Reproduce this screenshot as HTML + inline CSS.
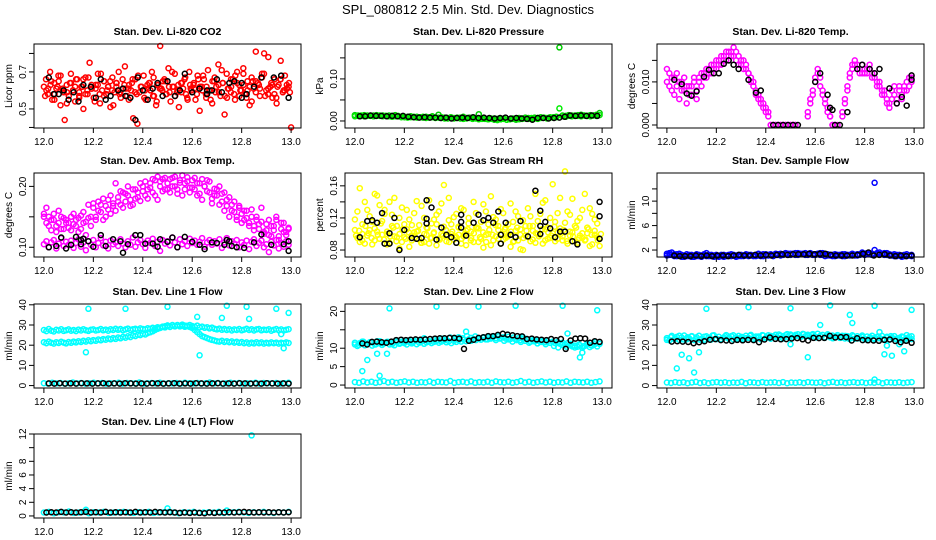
<!DOCTYPE html>
<html><head><meta charset="utf-8"><style>
body{margin:0;background:#fff}
svg{display:block;font-family:"Liberation Sans",sans-serif}
</style></head><body>
<svg id="c" width="936" height="540" viewBox="0 0 936 540">
<text x="468" y="14" text-anchor="middle" font-size="13">SPL_080812  2.5 Min. Std. Dev. Diagnostics</text>
</svg>
<script>
// ---- data ----
const xTicks=[12.0,12.2,12.4,12.6,12.8,13.0];
const xTickLabels=["12.0","12.2","12.4","12.6","12.8","13.0"];

const co2Red=[0.62,0.66,0.58,0.70,0.55,0.64,0.61,0.68,0.52,0.60,0.44,0.63,0.57,0.69,0.60,0.54,0.66,0.59,0.62,0.50,0.67,0.58,0.75,0.61,0.56,0.63,0.69,0.53,0.60,0.65,0.58,0.62,0.51,0.67,0.59,0.64,0.70,0.56,0.61,0.73,0.57,0.63,0.60,0.45,0.66,0.42,0.59,0.62,0.68,0.55,0.61,0.64,0.70,0.57,0.52,0.63,0.84,0.60,0.66,0.58,0.72,0.54,0.62,0.69,0.59,0.51,0.64,0.61,0.67,0.56,0.70,0.60,0.63,0.55,0.68,0.49,0.62,0.66,0.58,0.71,0.60,0.53,0.65,0.62,0.74,0.57,0.64,0.47,0.69,0.61,0.59,0.66,0.55,0.70,0.63,0.60,0.72,0.58,0.65,0.52,0.67,0.61,0.81,0.64,0.57,0.69,0.80,0.60,0.78,0.62,0.56,0.66,0.53,0.63,0.76,0.59,0.68,0.61,0.64,0.40];
const co2Red2=[0.60,0.63,0.58,0.65,0.61,0.59,0.64,0.62,0.57,0.66,0.60,0.63,0.61,0.58,0.65,0.62,0.60,0.64,0.59,0.63,0.61,0.66,0.58,0.62,0.60,0.64,0.57,0.63,0.61,0.65,0.59,0.62,0.60,0.64,0.58,0.63,0.61,0.66,0.60,0.62,0.55,0.67,0.59,0.64,0.56,0.62,0.68,0.57,0.63,0.60,0.54,0.65,0.61,0.69,0.58,0.63,0.56,0.66,0.60,0.62];
const co2Red3=[0.57,0.61,0.65,0.55,0.62,0.68,0.59,0.53,0.64,0.60,0.66,0.56,0.62,0.58,0.67,0.61,0.54,0.63,0.69,0.57,0.60,0.65,0.52,0.62,0.58,0.66,0.61,0.55,0.64,0.59,0.68,0.62,0.56,0.63,0.60,0.67,0.54,0.61,0.65,0.58,0.62,0.70,0.57,0.63,0.59,0.66,0.55,0.61,0.64,0.58,0.62,0.68,0.56,0.60,0.65,0.59,0.63,0.71,0.57,0.61,0.66,0.58,0.64,0.60,0.69,0.56,0.62,0.65,0.59,0.63,0.67,0.57,0.61,0.64,0.58,0.62,0.66,0.60,0.63,0.59];
const co2BlackX=[12.02,12.04,12.06,12.08,12.10,12.12,12.14,12.16,12.19,12.21,12.23,12.25,12.27,12.30,12.32,12.33,12.35,12.37,12.38,12.40,12.42,12.44,12.46,12.48,12.50,12.53,12.55,12.57,12.60,12.63,12.66,12.66,12.68,12.70,12.72,12.75,12.77,12.80,12.80,12.82,12.85,12.88,12.93,12.96,12.99];
const co2BlackY=[0.67,0.58,0.58,0.60,0.55,0.59,0.54,0.63,0.62,0.56,0.66,0.55,0.57,0.60,0.61,0.57,0.56,0.44,0.67,0.60,0.55,0.61,0.64,0.57,0.65,0.57,0.60,0.69,0.59,0.61,0.58,0.60,0.60,0.66,0.59,0.64,0.65,0.56,0.64,0.58,0.62,0.67,0.67,0.68,0.56];

const presG1=[0.014,0.013,0.012,0.014,0.013,0.012,0.013,0.014,0.012,0.013,0.012,0.013,0.012,0.014,0.011,0.010,0.009,0.010,0.011,0.009,0.010,0.009,0.008,0.010,0.009,0.011,0.008,0.015,0.007,0.008,0.006,0.009,0.007,0.008,0.006,0.010,0.007,0.008,0.006,0.007,0.016,0.006,0.005,0.004,0.006,0.003,0.005,0.004,0.006,0.003,0.004,0.005,0.003,0.007,0.006,0.008,0.007,0.006,0.008,0.007,0.009,0.008,0.007,0.009,0.008,0.010,0.175,0.013,0.012,0.014,0.013,0.012,0.014,0.015,0.013,0.012,0.014,0.013,0.015,0.019];
const presG2=[0.011,0.012,0.013,0.011,0.012,0.013,0.011,0.012,0.013,0.011,0.012,0.011,0.010,0.011,0.012,0.009,0.010,0.008,0.009,0.010,0.008,0.009,0.010,0.007,0.008,0.009,0.007,0.008,0.009,0.006,0.007,0.008,0.006,0.007,0.008,0.005,0.006,0.007,0.005,0.006,0.004,0.005,0.006,0.004,0.005,0.006,0.002,0.004,0.005,0.003,0.004,0.006,0.005,0.004,0.005,0.006,0.005,0.007,0.006,0.005,0.007,0.008,0.006,0.008,0.009,0.009,0.030,0.011,0.010,0.012,0.011,0.013,0.012,0.011,0.013,0.012,0.011,0.013,0.012,0.014];
const presBlack=[0.011,0.011,0.013,0.012,0.012,0.011,0.012,0.011,0.012,0.010,0.009,0.008,0.009,0.008,0.008,0.007,0.008,0.006,0.007,0.008,0.007,0.009,0.007,0.008,0.007,0.006,0.007,0.008,0.006,0.007,0.006,0.005,0.003,0.007,0.007,0.006,0.007,0.008,0.010,0.013,0.012,0.013,0.012,0.013,0.012];

const tempM1=[0.010,0.012,0.008,0.011,0.009,0.006,0.010,0.008,0.005,0.009,0.007,0.010,0.008,0.011,0.009,0.012,0.011,0.013,0.012,0.014,0.013,0.015,0.014,0.016,0.015,0.017,0.016,0.018,0.015,0.016,0.014,0.015,0.013,0.012,0.011,0.009,0.008,0.007,0.006,0.005,0.004,0.003,0.000,0.000,0.000,0.000,0.000,0.000,0.000,0.000,0.000,0.000,0.000,null,null,null,null,0.003,0.005,0.008,0.010,0.012,0.011,0.008,0.006,0.004,0.002,0.000,0.000,0.000,null,0.002,0.005,0.008,0.011,0.014,0.015,0.013,0.012,0.014,0.012,0.013,0.014,0.012,0.011,0.010,0.009,0.008,0.007,0.006,0.005,0.008,0.007,0.006,0.009,0.006,0.008,0.010,0.011,0.010];
const tempM2=[0.013,0.009,0.011,0.007,0.012,0.010,0.008,0.011,0.009,0.007,0.009,0.011,0.006,0.010,0.012,0.011,0.013,0.012,0.014,0.013,0.015,0.014,0.016,0.015,0.017,0.015,0.017,0.016,0.017,0.014,0.015,0.013,0.014,0.012,0.010,0.010,0.007,0.006,0.005,0.004,0.003,0.002,0.000,0.000,0.000,0.000,0.000,0.000,0.000,0.000,0.000,0.000,0.000,null,null,null,null,0.002,0.006,0.007,0.011,0.013,0.009,0.007,0.005,0.003,0.002,0.000,0.000,null,null,0.003,0.006,0.009,0.012,0.013,0.014,0.014,0.013,0.012,0.013,0.012,0.013,0.011,0.012,0.009,0.010,0.007,0.008,0.005,0.004,0.006,0.009,0.005,0.008,0.007,0.009,0.008,0.009,0.011];
const tempBlackX=[12.03,12.06,12.08,12.10,12.12,12.15,12.17,12.19,12.21,12.23,12.25,12.27,12.29,12.33,12.36,12.38,12.43,12.45,12.47,12.49,12.51,12.53,12.60,12.62,12.65,12.66,12.67,12.68,12.70,12.73,12.77,12.79,12.82,12.84,12.86,12.90,12.93,12.95,12.97,12.99,12.99];
const tempBlackY=[0.0105,0.0095,0.0073,0.0068,0.0078,0.0112,0.0128,0.012,0.012,0.0142,0.015,0.014,0.013,0.0105,0.0075,0.008,0,0,0,0,0,0,0.010,0.012,0.007,0.004,0.0035,0,0,0.003,0.013,0.014,0.013,0.012,0.013,0.0085,0.005,0.0065,0.0045,0.0105,0.0115];

const boxUp1=[0.155,0.140,0.150,0.128,0.145,0.135,0.160,0.130,0.148,0.140,0.132,0.150,0.138,0.145,0.125,0.152,0.140,0.120,0.148,0.135,0.165,0.150,0.160,0.170,0.145,0.168,0.178,0.155,0.172,0.160,0.182,0.170,0.190,0.175,0.185,0.168,0.195,0.180,0.190,0.176,0.200,0.185,0.195,0.205,0.190,0.210,0.178,0.200,0.212,0.195,0.205,0.190,0.214,0.200,0.195,0.210,0.185,0.205,0.215,0.198,0.210,0.195,0.205,0.188,0.212,0.200,0.192,0.208,0.180,0.196,0.185,0.200,0.175,0.190,0.168,0.182,0.160,0.175,0.150,0.165,0.155,0.145,0.160,0.140,0.150,0.135,0.145,0.130,0.142,0.125,0.138,0.120,0.135,0.128,0.145,0.118,0.130,0.140,0.125,0.132];
const boxUp2=[0.150,0.165,0.135,0.145,0.155,0.125,0.140,0.150,0.130,0.145,0.140,0.128,0.155,0.135,0.148,0.130,0.158,0.142,0.170,0.150,0.172,0.145,0.175,0.158,0.180,0.150,0.162,0.185,0.168,0.205,0.175,0.192,0.165,0.188,0.200,0.178,0.170,0.195,0.182,0.205,0.192,0.208,0.180,0.198,0.212,0.185,0.216,0.208,0.192,0.214,0.195,0.212,0.200,0.216,0.188,0.206,0.218,0.195,0.208,0.190,0.198,0.214,0.185,0.205,0.178,0.200,0.210,0.190,0.172,0.185,0.195,0.170,0.188,0.160,0.178,0.150,0.170,0.158,0.145,0.168,0.140,0.160,0.148,0.135,0.162,0.128,0.150,0.138,0.165,0.122,0.128,0.145,0.118,0.135,0.150,0.112,0.140,0.125,0.120,0.130];
const boxLow=[0.105,0.110,0.100,0.108,0.112,0.098,0.106,0.115,0.102,0.109,0.104,0.111,0.099,0.107,0.113,0.101,0.108,0.095,0.110,0.104,0.112,0.100,0.107,0.115,0.103,0.109,0.098,0.111,0.105,0.108,0.102,0.113,0.106,0.100,0.110,0.104,0.116,0.101,0.108,0.112,0.105,0.099,0.111,0.107,0.114,0.102,0.109,0.094,0.112,0.106,0.110,0.103,0.116,0.108,0.100,0.113,0.105,0.110,0.102,0.114,0.107,0.111,0.104,0.109,0.115,0.101,0.108,0.112,0.104,0.110,0.106,0.113,0.099,0.108,0.115,0.103,0.110,0.106,0.112,0.100,0.108,0.104,0.111,0.097,0.109,0.113,0.102,0.107,0.111,0.100,0.105,0.092,0.109,0.103,0.112,0.098,0.107,0.101,0.110,0.104];
const boxBlackX=[12.02,12.05,12.07,12.09,12.11,12.13,12.15,12.15,12.16,12.18,12.20,12.23,12.25,12.28,12.31,12.32,12.34,12.37,12.39,12.41,12.44,12.46,12.47,12.50,12.52,12.54,12.57,12.60,12.63,12.65,12.68,12.70,12.73,12.74,12.75,12.76,12.78,12.81,12.85,12.88,12.92,12.97,12.99,12.99];
const boxBlackY=[0.100,0.102,0.116,0.098,0.104,0.117,0.112,0.105,0.114,0.110,0.101,0.120,0.102,0.113,0.110,0.091,0.105,0.120,0.120,0.106,0.106,0.101,0.113,0.109,0.116,0.100,0.117,0.109,0.104,0.097,0.108,0.107,0.104,0.112,0.110,0.102,0.100,0.099,0.108,0.121,0.104,0.105,0.110,0.094];

const rhY1=[0.118,0.095,0.157,0.100,0.088,0.130,0.105,0.115,0.092,0.148,0.136,0.099,0.125,0.087,0.140,0.110,0.145,0.096,0.120,0.090,0.112,0.130,0.084,0.098,0.126,0.103,0.093,0.135,0.090,0.108,0.142,0.095,0.118,0.086,0.128,0.100,0.161,0.097,0.145,0.112,0.093,0.125,0.099,0.088,0.130,0.104,0.120,0.095,0.140,0.108,0.090,0.115,0.083,0.128,0.100,0.147,0.092,0.118,0.105,0.088,0.126,0.095,0.112,0.138,0.090,0.104,0.122,0.081,0.117,0.098,0.132,0.091,0.110,0.150,0.100,0.125,0.088,0.142,0.108,0.095,0.162,0.115,0.102,0.145,0.092,0.178,0.128,0.098,0.144,0.110,0.089,0.120,0.095,0.150,0.101,0.132,0.087,0.118,0.096,0.085];
const rhY2=[0.105,0.128,0.090,0.112,0.140,0.098,0.122,0.087,0.150,0.103,0.094,0.116,0.130,0.100,0.089,0.124,0.097,0.110,0.082,0.133,0.096,0.106,0.118,0.092,0.102,0.141,0.111,0.089,0.120,0.099,0.088,0.113,0.102,0.124,0.094,0.138,0.109,0.091,0.117,0.100,0.121,0.096,0.108,0.132,0.097,0.086,0.113,0.103,0.090,0.126,0.107,0.094,0.137,0.099,0.112,0.086,0.121,0.097,0.110,0.131,0.093,0.108,0.099,0.084,0.115,0.128,0.092,0.106,0.080,0.110,0.097,0.122,0.104,0.089,0.116,0.099,0.139,0.106,0.094,0.120,0.101,0.091,0.126,0.107,0.097,0.114,0.088,0.124,0.102,0.091,0.116,0.098,0.130,0.092,0.108,0.085,0.125,0.099,0.113,0.094];
const rhY3=[0.098,0.104,0.092,0.110,0.101,0.095,0.107,0.099,0.113,0.093,0.103,0.097,0.108,0.091,0.100,0.106,0.094,0.102,0.111,0.096,0.104,0.089,0.100,0.107,0.095,0.101,0.112,0.093,0.098,0.105,0.090,0.103,0.097,0.109,0.094,0.100,0.106,0.092,0.101,0.108,0.096,0.102,0.090,0.105,0.099,0.111,0.094,0.100,0.106,0.097,0.103,0.091,0.108,0.099,0.095,0.104,0.110,0.093,0.101,0.097,0.106,0.092,0.102,0.098,0.109,0.094,0.100,0.105,0.091,0.103,0.097,0.108,0.095,0.101,0.093,0.106,0.099,0.104,0.092,0.100];
const rhBlackX=[12.02,12.05,12.07,12.09,12.11,12.12,12.14,12.14,12.16,12.18,12.20,12.23,12.25,12.27,12.29,12.29,12.29,12.31,12.33,12.35,12.37,12.39,12.41,12.43,12.43,12.43,12.45,12.48,12.50,12.52,12.54,12.56,12.58,12.59,12.59,12.61,12.63,12.65,12.67,12.70,12.73,12.75,12.75,12.75,12.77,12.79,12.81,12.83,12.85,12.88,12.90,12.99,12.99,12.99];
const rhBlackY=[0.096,0.116,0.117,0.114,0.126,0.088,0.088,0.101,0.120,0.080,0.105,0.095,0.094,0.095,0.142,0.119,0.113,0.133,0.093,0.108,0.099,0.096,0.089,0.124,0.115,0.108,0.098,0.114,0.124,0.117,0.120,0.114,0.128,0.099,0.088,0.114,0.099,0.096,0.116,0.097,0.154,0.129,0.110,0.100,0.115,0.107,0.096,0.103,0.103,0.091,0.087,0.140,0.122,0.094];

const flowB1=[1.4,1.2,1.6,1.0,1.3,1.1,1.2,0.9,1.0,1.2,0.9,1.1,1.0,1.2,0.9,1.1,1.5,1.0,1.2,0.9,1.1,1.0,1.2,0.9,1.1,1.0,1.3,1.1,0.9,1.2,1.0,1.1,1.3,1.0,1.2,1.1,1.0,1.4,1.2,1.0,1.3,1.1,1.2,1.0,1.4,1.2,1.1,1.3,1.5,1.2,1.4,1.3,1.2,1.5,1.3,1.4,1.2,1.3,1.5,1.2,1.3,1.4,1.2,1.5,1.3,1.1,1.2,1.0,1.3,1.1,1.2,1.0,1.3,1.1,1.2,1.4,1.1,1.3,1.2,1.6,1.4,1.5,1.3,1.2,13.0,1.3,1.6,1.4,1.5,1.2,1.3,1.1,1.0,1.2,1.1,0.9,1.2,1.0,1.1,1.2];
const flowB2=[1.1,1.5,1.2,1.3,1.0,1.4,0.9,1.1,1.3,1.0,1.2,0.9,1.3,1.0,1.1,1.3,1.0,1.2,1.0,1.1,1.2,0.9,1.0,1.2,1.0,1.2,1.0,1.2,1.1,1.0,1.2,1.0,1.1,1.2,1.1,1.0,1.2,1.1,1.0,1.3,1.1,1.2,1.3,1.1,1.2,1.3,1.4,1.2,1.3,1.4,1.2,1.4,1.5,1.2,1.4,1.3,1.5,1.2,1.4,1.3,1.2,1.3,1.5,1.2,1.0,1.3,1.1,1.2,1.0,1.2,1.1,1.3,1.0,1.2,1.1,1.3,1.2,1.1,1.3,1.4,1.2,1.3,1.5,1.4,2.0,1.5,1.3,1.4,1.2,1.5,1.1,1.2,1.3,1.0,1.2,1.1,1.0,1.3,1.1,1.0];
const flowBlack=[1.1,1.0,1.0,1.0,1.1,1.0,1.1,1.0,1.1,1.1,1.0,1.1,1.2,1.1,1.1,1.2,1.1,1.2,1.1,1.2,1.3,1.2,1.3,1.3,1.3,1.4,1.3,1.4,1.4,1.2,1.1,1.1,1.1,1.1,1.2,1.4,1.6,1.1,1.2,1.3,1.1,1.0,1.1,1.0,1.1];

const l1Upper=[27.5,27,28,27.2,26.8,27.6,27.3,27.9,27.1,27.4,27.8,27.2,27.5,27,27.7,27.3,27.9,27.4,27.1,27.6,27.8,27.3,27.5,28,27.4,27.7,27.2,27.9,27.5,28.1,27.6,28,27.4,27.8,28.2,27.5,27.9,28.1,27.7,28.3,28,27.8,28.4,28.1,28.6,28.3,28.9,28.5,29.2,28.8,29.5,29,29.8,29.3,30,29.6,30.2,29.7,29.4,30,29.5,29.1,29.7,28.8,29.2,28.6,28.9,28.3,28.7,28.1,27.8,28.2,27.6,28,27.5,27.9,27.3,27.8,27.5,28,27.4,27.7,28.1,27.5,27.9,27.3,27.8,28,27.4,27.7,27.5,27.9,27.2,27.6,28,27.4,27.8,27.3,27.6,27.9];
const l1Lower=[21.5,21,21.8,21.2,20.8,21.5,21.1,21.7,21.3,20.9,21.6,21.2,21.8,21.4,22,21.6,22.2,21.8,22.4,22,22.5,22.2,22.8,22.4,23,22.7,23.3,22.9,23.5,23.1,23.8,23.4,24.1,23.7,24.4,24,24.8,24.5,25.2,25,25.6,25.3,26,26.4,26.9,27.5,28.1,28.6,29,29.4,29.8,29.2,30,29.5,29.9,29.3,29.7,29.1,29.6,29,28.5,27.5,26.5,25.5,24.5,24,23.5,23,22.6,22.3,22,21.8,22.2,21.6,22,21.5,21.9,21.3,21.7,21.2,21.6,21,21.4,20.8,21.3,20.9,21.5,21,21.4,20.8,21.2,20.9,21.4,21,21.3,20.8,21.2,21,21.4,21.1];
const l1Bottom=[1.2,1.0,1.4,1.1,1.3,1.0,1.2,1.5,1.1,1.3,1.0,1.2,1.4,1.1,1.3,1.0,1.2,1.1,1.4,1.0,1.3,1.2,1.1,1.5,1.0,1.2,1.3,1.1,1.4,1.0,1.2,1.1,1.3,1.0,1.4,1.2,1.1,1.3,1.0,1.2,1.5,1.1,1.3,1.0,1.2,1.4,1.1,1.3,1.0,1.2,1.1,1.4,1.0,1.3,1.2,1.1,1.3,1.0,1.2,1.4];
const l1OutX=[12.17,12.18,12.33,12.50,12.63,12.62,12.72,12.74,12.82,12.83,12.94,12.96,12.97,12.99];
const l1OutY=[16.5,38,38,39,15,34,33.5,39.5,39,33,38,25.5,18.5,36];
const l1Black=[1.1,1.0,1.2,1.0,1.1,1.0,1.2,1.1,1.0,1.1,1.2,1.0,1.1,1.0,1.2,1.1,1.0,1.1,1.0,1.2,1.1,1.0,1.1,1.2,1.0,1.1,1.0,1.2,1.1,1.0,1.1,1.2,1.0,1.1,1.0,1.2,1.1,1.0,1.1,1.0,1.2,1.1,1.0,1.1,1.0];

const l2Band1=[11,10.6,11.4,11.8,10.8,11.2,11.6,10.7,11.1,11.9,11.3,10.9,11.5,11.7,11,11.4,10.8,11.6,11.2,11.8,11.4,11,11.7,11.3,11.9,11.1,11.5,11.8,11.2,11.6,11.9,11.4,11.7,12,11.5,11.8,12.1,11.6,11.9,11.4,12,11.7,12.2,11.8,12.3,11.9,12.4,12,12.5,12.2,12.6,12.3,12.8,12.4,12.9,12.6,13.1,12.7,13.2,12.8,13,12.6,13.1,12.5,12.9,12.4,12.7,12.2,12.5,12,12.3,11.8,12.2,11.9,12.1,11.7,12,11.6,11.9,11.5,11.8,11.4,11.7,11.2,11.5,11,11.4,10.8,10.5,10.2,10.4,10.8,10.1,10.6,11,10.3,10.7,11.1,10.5,11.2];
const l2Band2=[11.5,10.9,11.8,11.2,11.6,11,11.9,11.3,11.7,11.1,12,11.4,11.8,12.1,11.6,12.2,11.9,12.3,11.8,12.4,12.1,12.6,12.3,12.9,12.5,13,12.7,13.3,12.8,13.2,12.6,13,12.4,12.8,12.2,12.6,12,12.4,11.8,12.2,11.7,12,11.5,11.9,11.3,11.7,11.1,11.5,10.6,10.2,10.9,10.4,11.2,10.7,11,10.5,11.3,10.8,11.6,11.2];
const l2Bottom=[0.8,0.6,1.0,0.7,0.9,0.6,0.8,1.1,0.7,0.9,0.6,0.8,1.0,0.7,0.9,0.6,0.8,0.7,1.0,0.6,0.9,0.8,0.7,1.1,0.6,0.8,0.9,0.7,1.0,0.6,0.8,0.7,0.9,0.6,1.0,0.8,0.7,0.9,0.6,0.8,1.1,0.7,0.9,0.6,0.8,1.0,0.7,0.9,0.6,0.8,0.7,1.0,0.6,0.9,0.8,0.7,0.9,0.6,0.8,1.0];
const l2OutX=[12.03,12.05,12.09,12.10,12.13,12.14,12.28,12.33,12.45,12.50,12.65,12.68,12.84,12.86,12.91,12.92,12.98];
const l2OutY=[3.8,6.8,8.5,2.5,8.5,20.8,12.7,21.3,14.5,21.3,21.5,13,21.5,14,7.5,8.8,20.3];
const l2Black=[11.3,11,11.7,11.8,11.6,11.5,11.8,12.2,12.3,12.2,12.3,12.4,12.3,12.4,12.5,12.6,12.7,12.7,12.8,12.8,12.6,9.8,12,12.3,12.8,13,13.3,13.3,13.6,13.9,13.7,13.5,13.3,13.2,12.5,12.6,12.4,12.3,12.2,12.5,12.2,12.5,9.8,12.1,12.6,12.7,12.6,11.5,11.9,11.7];

const l3Band1=[23.5,22.4,24.6,23,24.1,22.6,23.8,24.8,22.9,23.4,24.3,22.5,23.9,24.7,23.1,22.7,24.4,23.6,22.8,24.9,23.3,24.2,22.9,23.7,25,23.2,24.5,22.8,23.9,24.6,23.4,22.9,24.7,23.6,25.1,23,24.3,23.8,22.9,24.8,23.5,24.9,23.2,24.4,25.2,23.7,24.8,23.3,25,24.1,25.3,23.9,24.6,25.4,24,25.6,24.4,25.2,24.1,25.5,24.3,25.7,24.6,25.1,24,25.4,23.9,24.8,24.2,25,23.6,24.7,23.3,24.5,23.8,24.9,23.2,24.4,23.6,24.8,23.1,24.3,23.5,24.7,22.9,24.1,23.4,24.6,23,24.2,22.7,23.8,24.5,22.9,23.6,24.3,22.6,23.5,24.1,23];
const l3Band2=[22.6,24,23.2,24.7,22.8,23.9,24.5,23.1,22.7,24.2,23.6,24.8,23,22.9,24.4,23.7,24.9,23.3,24.1,23.5,24.7,23.8,24.3,25,23.9,24.6,24.2,25.3,24.4,25.5,24.8,25.1,24.3,25.4,24.6,24.9,23.8,24.5,23.6,24.8,23.4,24.2,23.7,24.6,23.1,24.4,23.3,24.1,22.8,23.9,23.4,24.3,22.9,23.8,24.5,23.2,22.8,24,23.5,24.4];
const l3Bottom=[1.5,1.3,1.7,1.4,1.6,1.2,1.5,1.8,1.3,1.6,1.2,1.5,1.7,1.4,1.6,1.3,1.5,1.4,1.8,1.2,1.6,1.5,1.3,1.7,1.4,1.5,1.6,1.3,1.7,1.2,1.5,1.4,1.6,1.3,1.7,1.5,1.4,1.6,1.2,1.5,1.8,1.4,1.6,1.3,1.5,1.7,1.4,1.6,1.3,1.5,1.4,1.7,1.2,1.6,1.5,1.4,1.6,1.3,1.5,1.7];
const l3OutX=[12.04,12.06,12.09,12.11,12.13,12.16,12.33,12.50,12.50,12.57,12.62,12.66,12.74,12.75,12.84,12.84,12.86,12.88,12.89,12.91,12.94,12.96,12.97,12.99];
const l3OutY=[8.5,15.3,13.5,6.5,16.5,38,38.8,38.3,20.5,14,30,39.7,35,31,39.5,3,26.5,15.5,19.8,14.8,20.5,17,25,37.5];
const l3Black=[21.8,22,21.8,21.6,21,21.5,22,22.7,23,22.5,22.3,22.1,22.6,22.4,22.6,22.5,21.5,22.8,23.8,23.1,22.9,23,23.3,23.5,22.9,22.3,23.6,23.5,23.6,24.6,23.8,24,24,22.3,23.4,22.5,22.4,22.3,22.2,22.6,22.8,22.1,21.5,22.2,21.2];

const l4Band=[0.5,0.6,0.4,0.55,0.5,0.65,0.45,0.5,0.6,0.4,0.55,0.5,0.6,0.45,0.5,0.55,0.6,0.5,0.45,0.55,0.5,0.6,0.45,0.5,0.55,0.6,0.5,0.4,0.55,0.5,0.6,0.45,0.5,0.55,0.5,0.6,0.45,0.5,0.55,0.6,0.5,0.45,0.55,0.5,0.6,0.5,0.45,0.55,0.5,0.6];
const l4OutX=[12.17,12.50,12.74,12.84];
const l4OutY=[0.9,1.1,0.8,11.8];
const l4Black=[0.5,0.55,0.5,0.6,0.5,0.55,0.5,0.55,0.6,0.5,0.55,0.5,0.6,0.5,0.55,0.5,0.55,0.5,0.6,0.5,0.55,0.5,0.6,0.55,0.5,0.55,0.5,0.45,0.5,0.45,0.5,0.45,0.4,0.5,0.45,0.5,0.5,0.55,0.5,0.55,0.6,0.55,0.5,0.55,0.5,0.55,0.5,0.55,0.5,0.55];

// ---- layout & rendering ----
const NS="http://www.w3.org/2000/svg";
const svg=document.getElementById('c');
const cols=[[34,301],[345,612],[657,924]];
const rows=[[44,128],[173,257],[304,388],[434,518]];
const MAG="#ff00ff",CY="#00ffff",BLK="#000000";
function ev(arr,a,b){return arr.map((v,i)=>[a+(b-a)*i/(arr.length-1),v]);}
function xy(xs,ys){return xs.map((x,i)=>[x,ys[i]]);}
const panels=[
 {name:"co2",title:"Stan. Dev. Li-820 CO2",ylab:"Licor ppm",c:0,r:0,ylim:[0.397,0.851],ticks:[0.4,0.5,0.6,0.7,0.8],labs:["","0.5","","0.7",""],
  series:[[ev(co2Red,12.0,13.0),"#ff0000"],[ev(co2Red2,12.01,12.99),"#ff0000"],[ev(co2Red3,12.005,12.995),"#ff0000"],[xy(co2BlackX,co2BlackY),BLK]]},
 {name:"pressure",title:"Stan. Dev. Li-820 Pressure",ylab:"kPa",c:1,r:0,ylim:[-0.0167,0.183],ticks:[0,0.05,0.1,0.15],labs:["0.00","","0.10",""],
  series:[[ev(presG1,12.0,12.99),"#00cc00"],[ev(presG2,12.0,12.99),"#00ee00"],[ev(presBlack,12.02,12.98),BLK]]},
 {name:"li820-temp",title:"Stan. Dev. Li-820 Temp.",ylab:"degrees C",c:2,r:0,ylim:[-0.0007,0.0188],ticks:[0,0.005,0.01,0.015],labs:["0.000","","0.010",""],
  series:[[ev(tempM1,12.0,12.99),MAG],[ev(tempM2,12.0,12.99),MAG],[xy(tempBlackX,tempBlackY),BLK]]},
 {name:"amb-box-temp",title:"Stan. Dev. Amb. Box Temp.",ylab:"degrees C",c:0,r:1,ylim:[0.084,0.222],ticks:[0.1,0.15,0.2],labs:["0.10","","0.20"],
  series:[[ev(boxUp1,12.0,12.99),MAG],[ev(boxUp2,12.0,12.99),MAG],[ev(boxLow,12.0,12.99),MAG],[xy(boxBlackX,boxBlackY),BLK]]},
 {name:"gas-stream-rh",title:"Stan. Dev. Gas Stream RH",ylab:"percent",c:1,r:1,ylim:[0.0713,0.176],ticks:[0.08,0.1,0.12,0.14,0.16],labs:["0.08","","0.12","","0.16"],
  series:[[ev(rhY1,12.0,12.99),"#ffff00"],[ev(rhY2,12.0,12.99),"#ffff00"],[ev(rhY3,12.005,12.995),"#ffff00"],[xy(rhBlackX,rhBlackY),BLK]]},
 {name:"sample-flow",title:"Stan. Dev. Sample Flow",ylab:"ml/min",c:2,r:1,ylim:[0.86,14.6],ticks:[2,4,6,8,10,12],labs:["2","","6","","10",""],
  series:[[ev(flowB1,12.0,12.99),"#0000ff"],[ev(flowB2,12.0,12.99),"#0000ff"],[ev(flowBlack,12.03,12.99),BLK]]},
 {name:"line1-flow",title:"Stan. Dev. Line 1 Flow",ylab:"ml/min",c:0,r:2,ylim:[-1.2,40.4],ticks:[0,10,20,30,40],labs:["0","10","20","30","40"],
  series:[[ev(l1Upper,12.0,12.99),CY],[ev(l1Lower,12.0,12.99),CY],[ev(l1Bottom,12.0,12.99),CY],[xy(l1OutX,l1OutY),CY],[ev(l1Black,12.02,12.99),BLK]]},
 {name:"line2-flow",title:"Stan. Dev. Line 2 Flow",ylab:"ml/min",c:1,r:2,ylim:[-0.8,22],ticks:[0,5,10,15,20],labs:["0","5","10","","20"],
  series:[[ev(l2Band1,12.0,12.99),CY],[ev(l2Band2,12.0,12.99),CY],[ev(l2Bottom,12.0,12.99),CY],[xy(l2OutX,l2OutY),CY],[ev(l2Black,12.03,12.99),BLK]]},
 {name:"line3-flow",title:"Stan. Dev. Line 3 Flow",ylab:"ml/min",c:2,r:2,ylim:[-1.2,40.4],ticks:[0,10,20,30,40],labs:["0","10","20","30","40"],
  series:[[ev(l3Band1,12.0,12.99),CY],[ev(l3Band2,12.0,12.99),CY],[ev(l3Bottom,12.0,12.99),CY],[xy(l3OutX,l3OutY),CY],[ev(l3Black,12.02,12.99),BLK]]},
 {name:"line4-flow",title:"Stan. Dev. Line 4 (LT) Flow",ylab:"ml/min",c:0,r:3,ylim:[-0.3,12],ticks:[0,2,4,6,8,10,12],labs:["0","2","4","6","8","","12"],
  series:[[ev(l4Band,12.0,12.99),CY],[xy(l4OutX,l4OutY),CY],[ev(l4Black,12.01,12.99),BLK]]}
];
function mk(tag,attrs,parent){const e=document.createElementNS(NS,tag);for(const k in attrs)e.setAttribute(k,attrs[k]);(parent||svg).appendChild(e);return e;}
panels.forEach(p=>{
  const [x0,x1]=cols[p.c],[y0,y1]=rows[p.r];
  const g=mk('g',{});
  
  
  const sx=v=>x0+(v-11.96)/(13.04-11.96)*(x1-x0);
  const sy=v=>y1-(v-p.ylim[0])/(p.ylim[1]-p.ylim[0])*(y1-y0);
  const t=mk('text',{x:(x0+x1)/2,y:y0-9,'text-anchor':'middle','font-size':10.5,'font-weight':'bold'},g);
  t.textContent=p.title;
  
  
  const yl=mk('text',{x:0,y:0,'text-anchor':'middle','font-size':10,transform:`translate(${x0-22},${(y0+y1)/2}) rotate(-90)`},g);
  yl.textContent=p.ylab;
  
  
  p.series.forEach(([pts,col])=>{
    pts.forEach(([x,y])=>{
      if(y===null)return;
      const c=mk('circle',{cx:sx(x).toFixed(1),cy:sy(y).toFixed(1),r:2.5,fill:'none',stroke:col,'stroke-width':1.5},g);
      
      
    });
  });
  const box=mk('rect',{x:x0,y:y0,width:x1-x0,height:y1-y0,fill:'none',stroke:'#000','stroke-width':1},g);
  
  
  xTicks.forEach((v,i)=>{
    const X=sx(v);
    mk('line',{x1:X,x2:X,y1:y1,y2:y1+5,stroke:'#000'},g);
    const tl=mk('text',{x:X,y:y1+17,'text-anchor':'middle','font-size':10},g);
    tl.textContent=xTickLabels[i];
    
    
  });
  p.ticks.forEach((v,i)=>{
    const Y=sy(v);
    mk('line',{x1:x0-5,x2:x0,y1:Y,y2:Y,stroke:'#000'},g);
    if(p.labs[i]){
      const tl=mk('text',{x:0,y:0,'text-anchor':'middle','font-size':10,transform:`translate(${x0-8},${Y}) rotate(-90)`},g);
      tl.textContent=p.labs[i];
      
      
    }
  });
});
</script>
</body></html>
